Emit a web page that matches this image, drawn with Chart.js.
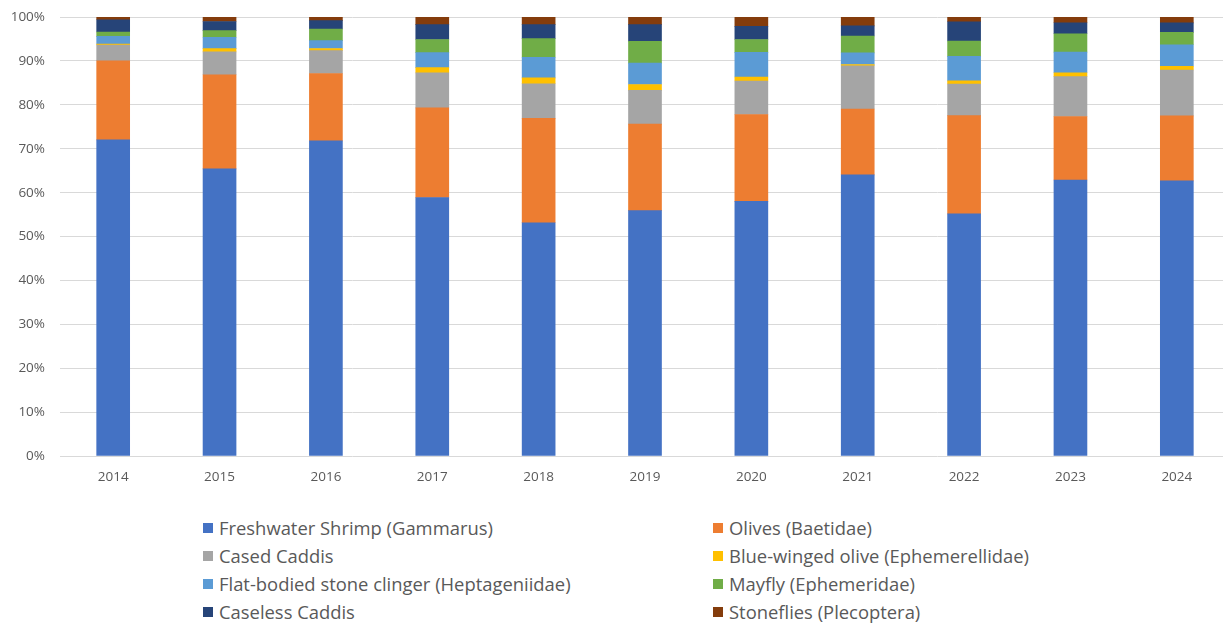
<!DOCTYPE html>
<html>
<head>
<meta charset="utf-8">
<script src="https://cdn.jsdelivr.net/npm/chart.js@4.4.1/dist/chart.umd.min.js"></script>
<style>
  html, body { margin: 0; padding: 0; background: #fff; overflow: hidden; }
  #wrap { position: relative; width: 1223px; height: 626px; overflow: hidden; }
  #chart { position: absolute; left: 0; top: -6px; }
  .leg { position: absolute; height: 28px; line-height: 28px; font-family: "Open Sans", sans-serif;
         font-size: 18.4px; color: #595959; white-space: nowrap; }
  .leg span { position: absolute; left: 0; top: 9px; width: 10px; height: 10px; }
  .leg b { font-weight: normal; position: absolute; left: 16px; top: 0; }
</style>
</head>
<body>
<div id="wrap">
  <canvas id="chart" width="1230" height="496"></canvas>
</div>
<script>
// survey years
var years = ['2014', '2015', '2016', '2017', '2018', '2019', '2020', '2021', '2022', '2023', '2024'];

// share of each group per year (%)
var shrimp     = [72.0, 65.5, 71.75, 58.9, 53.2, 55.9, 58.0, 64.1, 55.2, 63.0, 62.7];
var olives     = [18.0, 21.5, 15.35, 20.4, 23.8, 19.7, 19.8, 15.0, 22.4, 14.5, 14.85];
var casedCaddis = [3.6, 5.2, 5.2, 8.0, 7.9, 7.7, 7.65, 9.85, 7.2, 9.1, 10.45];
var blueWinged = [0.2, 0.75, 0.5, 1.2, 1.35, 1.35, 0.9, 0.3, 0.7, 0.9, 0.85];
var flatBodied = [1.75, 2.6, 1.8, 3.4, 4.7, 4.85, 5.6, 2.65, 5.6, 4.7, 4.9];
var mayfly     = [1.0, 1.5, 2.65, 3.0, 4.25, 5.0, 2.95, 3.85, 3.5, 4.2, 2.8];
var caseless   = [2.8, 2.1, 1.9, 3.4, 3.2, 3.8, 3.0, 2.3, 4.4, 2.5, 2.2];
var stoneflies = [0.6, 1.0, 0.8, 1.7, 1.7, 1.7, 2.1, 2.0, 1.05, 1.3, 1.3];

var seriesNames = [
  'Freshwater Shrimp (Gammarus)', 'Olives (Baetidae)', 'Cased Caddis',
  'Blue-winged olive (Ephemerellidae)', 'Flat-bodied stone clinger (Heptageniidae)',
  'Mayfly (Ephemeridae)', 'Caseless Caddis', 'Stoneflies (Plecoptera)'
];
var seriesValues = [shrimp, olives, casedCaddis, blueWinged, flatBodied, mayfly, caseless, stoneflies];
var colors = ['#4472C4', '#ED7D31', '#A5A5A5', '#FFC000', '#5B9BD5', '#70AD47', '#264478', '#843C0C'];

// 100% stacked: scale every year so it sums to 100
var totals = years.map(function(y, i) {
  var t = 0;
  seriesValues.forEach(function(s) { t += s[i]; });
  return t;
});

var datasets = seriesNames.map(function(name, k) {
  return {
    label: name,
    data: seriesValues[k].map(function(v, i) { return v / totals[i] * 100; }),
    backgroundColor: colors[k],
    borderWidth: 0,
    barThickness: 33
  };
});

var tickFont = { family: 'Open Sans', size: 13.5 };

new Chart(document.getElementById('chart').getContext('2d'), {
  type: 'bar',
  data: { labels: years, datasets: datasets },
  options: {
    responsive: false,
    animation: false,
    layout: { padding: { top: 10, right: 0, bottom: 0, left: 0 } },
    plugins: { legend: { display: false }, tooltip: { enabled: false } },
    scales: {
      x: {
        stacked: true,
        grid: { display: false, drawTicks: false },
        border: { display: false },
        ticks: { color: '#595959', font: tickFont, padding: 13 },
        afterFit: function(scale) { scale.height = 34; }
      },
      y: {
        stacked: true,
        min: 0,
        max: 100,
        grid: { color: '#D9D9D9', lineWidth: 1, drawTicks: false },
        border: { display: false },
        ticks: {
          stepSize: 10,
          color: '#595959',
          font: tickFont,
          padding: 15,
          callback: function(v) { return v + '%'; }
        },
        afterFit: function(scale) { scale.width = 60; }
      }
    }
  }
});

// two-column legend under the chart
var wrap = document.getElementById('wrap');
seriesNames.forEach(function(name, k) {
  var row = Math.floor(k / 2), col = k % 2;
  var item = document.createElement('div');
  item.className = 'leg';
  item.style.left = (col === 0 ? 203 : 713) + 'px';
  item.style.top = (514 + row * 28) + 'px';
  var box = document.createElement('span');
  box.style.background = colors[k];
  var txt = document.createElement('b');
  txt.textContent = name;
  item.appendChild(box);
  item.appendChild(txt);
  wrap.appendChild(item);
});
</script>
</body>
</html>
